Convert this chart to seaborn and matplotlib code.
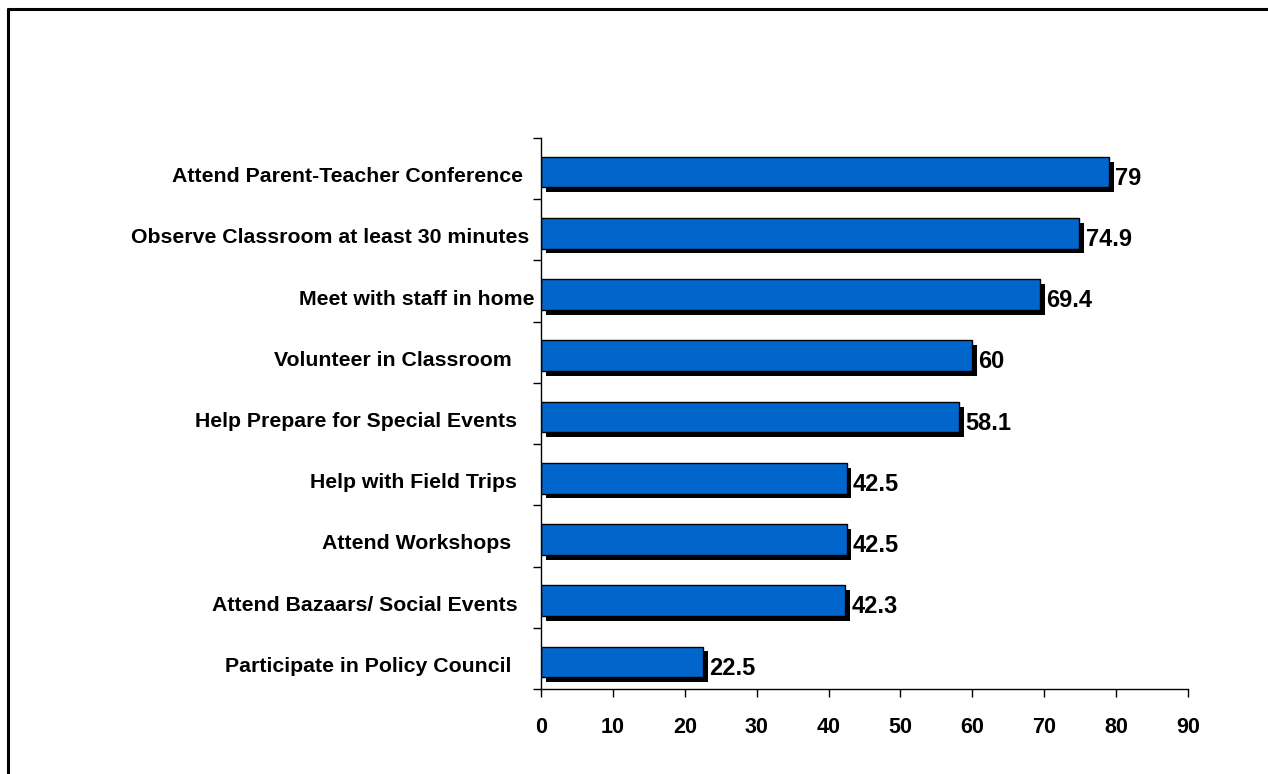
import matplotlib
matplotlib.use("Agg")
import matplotlib.pyplot as plt
import matplotlib.patheffects as pe
import matplotlib.transforms as mtransforms
from matplotlib.lines import Line2D
import seaborn as sns
import pandas as pd

# Share of parents taking part in each activity (%)
activities = [
    "Attend Parent-Teacher Conference  ",
    "Observe Classroom at least 30 minutes ",
    "Meet with staff in home",
    "Volunteer in Classroom    ",
    "Help Prepare for Special Events   ",
    "Help with Field Trips   ",
    "Attend Workshops    ",
    "Attend Bazaars/ Social Events   ",
    "Participate in Policy Council    ",
]
percent = [79, 74.9, 69.4, 60, 58.1, 42.5, 42.5, 42.3, 22.5]
value_labels = ["79", "74.9", "69.4", "60", "58.1", "42.5", "42.5", "42.3", "22.5"]
x_ticks = [0, 10, 20, 30, 40, 50, 60, 70, 80, 90]

df = pd.DataFrame({"activity": activities, "percent": percent})

sns.set_style("white")
plt.rcParams["font.family"] = ["Liberation Sans", "DejaVu Sans"]

fig = plt.figure(figsize=(12.68, 7.74), dpi=100)
ax = fig.add_axes([0.4267, 0.1098, 0.5102, 0.7119])

sns.barplot(data=df, x="percent", y="activity", orient="h", color="#0066CC",
            saturation=1, width=0.5, edgecolor="black", linewidth=1, ax=ax)

# drop shadow under each bar
for bar in ax.patches:
    bar.set_path_effects([
        pe.SimplePatchShadow(offset=(3.5, -3.5), shadow_rgbFace="black", alpha=1.0),
        pe.Normal(),
    ])

for i, (v, lab) in enumerate(zip(percent, value_labels)):
    ax.text(v + 0.85, i + 0.1, lab, ha="left", va="center",
            fontsize=17, fontweight="bold", color="black")

# bars sit slightly below the middle of each category band
band_shift = 0.057
n = len(activities)
ax.set_xlim(0, 90)
ax.set_ylim(n - 0.5 - band_shift, -0.5 - band_shift)
ax.set_xticks(x_ticks)
ax.set_xticklabels([str(t) for t in x_ticks], fontsize=15.5, fontweight="bold", color="black")
ax.set_yticks([i - 0.5 - band_shift for i in range(n + 1)], minor=True)
ax.tick_params(axis="y", which="major", length=0, pad=4.5, labelsize=15.3, labelcolor="black")
ax.tick_params(axis="y", which="minor", length=6, width=1, direction="out", color="black", left=True)
ax.tick_params(axis="x", which="major", length=6, width=1, direction="out", color="black",
               bottom=True, pad=14)
label_drop = mtransforms.ScaledTranslation(0, -1.8 / 72, fig.dpi_scale_trans)
for lbl in ax.get_yticklabels():
    lbl.set_fontweight("bold")
    lbl.set_transform(lbl.get_transform() + label_drop)

ax.set_xlabel("")
ax.set_ylabel("")
sns.despine(ax=ax)
for side in ("left", "bottom"):
    ax.spines[side].set_color("black")
    ax.spines[side].set_linewidth(1)

# frame around the chart area
fig.add_artist(Line2D([8 / 1268, 1.0], [1 - 9 / 774, 1 - 9 / 774], color="black",
                      linewidth=2.2, transform=fig.transFigure))
fig.add_artist(Line2D([8 / 1268, 8 / 1268], [0.0, 1 - 9 / 774], color="black",
                      linewidth=2.2, transform=fig.transFigure))

fig.savefig("out.png", dpi=100, facecolor="white")
